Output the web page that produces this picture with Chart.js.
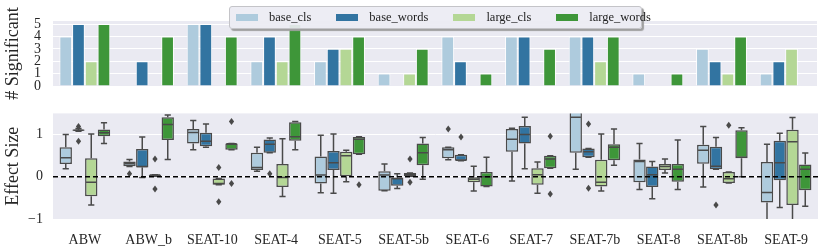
<!DOCTYPE html>
<html>
<head>
<meta charset="utf-8">
<script src="https://cdn.jsdelivr.net/npm/chart.js@4.4.1/dist/chart.umd.min.js"></script>
<style>
  body { margin: 0; background: #fff; width: 830px; height: 248px; overflow: hidden; position: relative; font-family: "Liberation Serif", serif; }
  canvas { position: absolute; left: 0; }
  #top { top: 0; }
  #bottom { top: 95px; }
  #legend {
    position: absolute; left: 229px; top: 6px; width: 411px; height: 21px;
    background: rgba(236,236,243,0.92); border: 1px solid #c4c4c8; border-radius: 3px;
    box-shadow: 2px 2px 1px #a0a0a0; display: flex; align-items: center;
    font-size: 12.5px; color: #222; z-index: 5;
  }
  #legend .item { display: flex; align-items: center; margin-left: 6px; margin-right: 19px; }
  #legend .sw { width: 22px; height: 7px; margin-right: 11px; }
</style>
</head>
<body>
<canvas id="top" width="830" height="105"></canvas>
<canvas id="bottom" width="830" height="153"></canvas>
<div id="legend"></div>
<script>
// categories
var categories = ["ABW", "ABW_b", "SEAT-10", "SEAT-4", "SEAT-5", "SEAT-5b", "SEAT-6", "SEAT-7", "SEAT-7b", "SEAT-8", "SEAT-8b", "SEAT-9"];
var seriesNames = ["base_cls", "base_words", "large_cls", "large_words"];
var seriesColors = ["#aecbdd", "#3274a1", "#b4d795", "#3e9639"];

// tick labels
var sigTicks = [0, 1, 2, 3, 4, 5];
var effectTicks = [-1, 0, 1];

// # significant (top panel)
var sigBaseCls    = [4, 0, 5, 2, 2, 1, 4, 4, 4, 1, 3, 1];
var sigBaseWords  = [5, 2, 5, 4, 3, 0, 2, 4, 4, 0, 2, 2];
var sigLargeCls   = [2, 0, 0, 2, 3, 1, 0, 0, 2, 0, 1, 3];
var sigLargeWords = [5, 4, 4, 5, 4, 3, 1, 3, 4, 1, 4, 0];

// effect size boxes: [whisker low, q1, median, q3, whisker high]
var boxBaseCls = [
  [0.19, 0.30, 0.45, 0.70, 1.00], [0.24, 0.25, 0.31, 0.36, 0.41], [0.64, 0.79, 1.05, 1.13, 1.33],
  [0.13, 0.16, 0.22, 0.57, 0.70], [-0.38, -0.16, 0.04, 0.48, 0.98], [-0.33, -0.33, 0.04, 0.13, 0.30],
  [0.40, 0.44, 0.64, 0.70, 0.70], [-0.10, 0.59, 0.89, 1.13, 1.15], [0.18, 0.57, 1.41, 1.60, 1.80],
  [-0.30, -0.13, 0.36, 0.41, 0.79], [-0.24, 0.31, 0.63, 0.76, 1.19], [-1.20, -0.61, -0.37, 0.35, 0.77]
];
var boxBaseWords = [
  [1.08, 1.09, 1.10, 1.12, 1.14], [-0.02, 0.22, 0.24, 0.66, 0.94], [0.70, 0.72, 0.84, 1.04, 1.25],
  [0.57, 0.57, 0.77, 0.88, 0.92], [-0.39, 0.16, 0.33, 0.61, 1.01], [-0.28, -0.21, -0.05, -0.02, 0.07],
  [0.38, 0.38, 0.39, 0.52, 0.52], [0.19, 0.79, 1.00, 1.20, 1.41], [0.46, 0.46, 0.59, 0.67, 0.67],
  [-0.52, -0.24, 0.05, 0.24, 0.36], [0.18, 0.18, 0.25, 0.71, 0.93], [-0.73, -0.08, 0.33, 0.85, 1.03]
];
var boxLargeCls = [
  [-0.67, -0.46, -0.13, 0.44, 1.01], [0.01, 0.01, 0.04, 0.05, 0.05], [-0.19, -0.19, -0.16, -0.04, -0.04],
  [-0.47, -0.24, -0.02, 0.30, 0.90], [-0.12, 0.01, 0.50, 0.59, 0.63], [0.01, 0.01, 0.05, 0.09, 0.09],
  [-0.34, -0.13, -0.06, 0.00, 0.25], [-0.39, -0.19, 0.05, 0.20, 0.35], [-0.34, -0.23, -0.13, 0.40, 1.01],
  [0.09, 0.16, 0.24, 0.30, 0.42], [-0.15, -0.15, -0.05, 0.11, 0.11], [-1.20, -0.67, 0.83, 1.11, 1.40]
];
var boxLargeWords = [
  [0.79, 0.96, 1.04, 1.12, 1.28], [0.41, 0.87, 1.24, 1.41, 1.46], [0.64, 0.64, 0.78, 0.79, 0.79],
  [0.64, 0.85, 0.95, 1.29, 1.31], [0.53, 0.53, 0.89, 0.94, 0.95], [-0.06, 0.27, 0.57, 0.79, 0.93],
  [-0.23, -0.23, 0.00, 0.11, 0.46], [0.20, 0.20, 0.42, 0.50, 0.50], [0.27, 0.39, 0.70, 0.77, 1.13],
  [-0.30, -0.12, 0.18, 0.30, 0.87], [0.00, 0.44, 0.46, 1.10, 1.16], [-0.70, -0.32, 0.18, 0.29, 0.56]
];

// outliers per category
var outBaseCls    = [[], [0.07], [], [], [], [], [1.13], [], [], [], [], []];
var outBaseWords  = [[1.19, 0.84], [], [], [0.07], [], [], [0.94], [], [1.25, -0.27], [], [-0.67], []];
var outLargeCls   = [[], [0.42, -0.29], [0.22, -0.59], [], [], [0.42, -0.13], [], [], [], [], [1.22], []];
var outLargeWords = [[], [], [1.31, -0.16], [], [-0.19], [], [], [0.96, -0.41], [], [], [], []];

var sigData = [sigBaseCls, sigBaseWords, sigLargeCls, sigLargeWords];
var boxData = [boxBaseCls, boxBaseWords, boxLargeCls, boxLargeWords];
var outData = [outBaseCls, outBaseWords, outLargeCls, outLargeWords];

var FONT = "Liberation Serif";
var TXT = "#262626";
var EDGE = "#4a4a4a";

// legend
var legend = document.getElementById("legend");
seriesNames.forEach(function (name, i) {
  var item = document.createElement("div");
  item.className = "item";
  item.innerHTML = '<span class="sw" style="background:' + seriesColors[i] + '"></span><span>' + name + "</span>";
  legend.appendChild(item);
});

// grey background behind plot area
var bgPlugin = {
  id: "bg",
  beforeDraw: function (chart) {
    var a = chart.chartArea, c = chart.ctx;
    c.save();
    c.fillStyle = "#eaeaf2";
    c.fillRect(a.left, a.top, a.right - a.left, a.bottom - a.top);
    c.restore();
  }
};

function fixedTicks(list) {
  return function (scale) {
    scale.ticks = list.map(function (v) { return { value: v }; });
  };
}

// top: number of significant results
new Chart(document.getElementById("top").getContext("2d"), {
  type: "bar",
  data: {
    labels: categories,
    datasets: seriesNames.map(function (name, i) {
      return {
        label: name,
        data: sigData[i],
        backgroundColor: seriesColors[i],
        borderColor: "rgba(255,255,255,0.85)",
        borderWidth: 1,
        categoryPercentage: 0.8,
        barPercentage: 1.0
      };
    })
  },
  options: {
    responsive: false,
    animation: false,
    layout: { padding: { top: 21, bottom: 17, right: 13, left: 0 } },
    plugins: { legend: { display: false }, tooltip: { enabled: false } },
    scales: {
      x: { display: false },
      y: {
        min: 0, max: 5.25,
        afterBuildTicks: fixedTicks(sigTicks),
        afterFit: function (s) { s.width = 53; },
        ticks: { autoSkip: false, padding: 12, color: TXT, font: { family: FONT, size: 14, lineHeight: 1 } },
        grid: { color: "#ffffff", lineWidth: 1, drawTicks: false },
        border: { display: false },
        title: { display: true, text: "# Significant", color: TXT, font: { family: FONT, size: 18 }, padding: { top: 2, bottom: 0 } }
      }
    }
  },
  plugins: [bgPlugin]
});

// bottom: effect size box plots
function diamond(c, x, y) {
  c.beginPath();
  c.moveTo(x, y - 3.5);
  c.lineTo(x + 2.6, y);
  c.lineTo(x, y + 3.5);
  c.lineTo(x - 2.6, y);
  c.closePath();
  c.fill();
}

var boxPlugin = {
  id: "boxes",
  afterDatasetsDraw: function (chart) {
    var c = chart.ctx, a = chart.chartArea, ys = chart.scales.y;
    c.save();
    c.beginPath();
    c.rect(a.left, a.top, a.right - a.left, a.bottom - a.top);
    c.clip();
    c.strokeStyle = EDGE;
    c.fillStyle = EDGE;
    c.lineWidth = 1.5;
    chart.data.datasets.forEach(function (ds, d) {
      var meta = chart.getDatasetMeta(d);
      meta.data.forEach(function (bar, i) {
        var s = boxData[d][i];
        var x = bar.x, hw = bar.width / 2;
        var p = s.map(function (v) { return ys.getPixelForValue(v); });
        c.beginPath();
        // whiskers
        c.moveTo(x, p[1]); c.lineTo(x, p[0]);
        c.moveTo(x, p[3]); c.lineTo(x, p[4]);
        // caps
        c.moveTo(x - hw / 2, p[0]); c.lineTo(x + hw / 2, p[0]);
        c.moveTo(x - hw / 2, p[4]); c.lineTo(x + hw / 2, p[4]);
        // median
        c.moveTo(x - hw + 1, p[2]); c.lineTo(x + hw - 1, p[2]);
        c.stroke();
        outData[d][i].forEach(function (v) { diamond(c, x, ys.getPixelForValue(v)); });
      });
    });
    // zero reference line
    var y0 = ys.getPixelForValue(0);
    c.strokeStyle = "#000";
    c.lineWidth = 1.3;
    c.setLineDash([5, 3]);
    c.beginPath();
    c.moveTo(a.left, y0);
    c.lineTo(a.right, y0);
    c.stroke();
    c.restore();
  }
};

new Chart(document.getElementById("bottom").getContext("2d"), {
  type: "bar",
  data: {
    labels: categories,
    datasets: seriesNames.map(function (name, i) {
      return {
        label: name,
        data: boxData[i].map(function (s) { return [s[1], s[3]]; }),
        backgroundColor: seriesColors[i],
        borderColor: EDGE,
        borderWidth: 1.5,
        borderSkipped: false,
        categoryPercentage: 0.8,
        barPercentage: 0.97,
        clip: 0
      };
    })
  },
  options: {
    responsive: false,
    animation: false,
    layout: { padding: { top: 12, bottom: 0, right: 12, left: 0 } },
    plugins: { legend: { display: false }, tooltip: { enabled: false } },
    scales: {
      x: {
        afterFit: function (s) { s.height = 29; },
        ticks: { padding: 5, color: TXT, font: { family: FONT, size: 14 } },
        grid: { display: false },
        border: { display: false }
      },
      y: {
        min: -1, max: 1.5,
        afterBuildTicks: fixedTicks(effectTicks),
        afterFit: function (s) { s.width = 53; },
        ticks: { autoSkip: false, padding: 10, color: TXT, font: { family: FONT, size: 14 },
          callback: function (v) { return v < 0 ? "\u2212" + Math.abs(v) : v; } },
        grid: { color: "#ffffff", lineWidth: 1, drawTicks: false },
        border: { display: false },
        title: { display: true, text: "Effect Size", color: TXT, font: { family: FONT, size: 18 }, padding: { top: 2, bottom: 0 } }
      }
    }
  },
  plugins: [bgPlugin, boxPlugin]
});
</script>
</body>
</html>
